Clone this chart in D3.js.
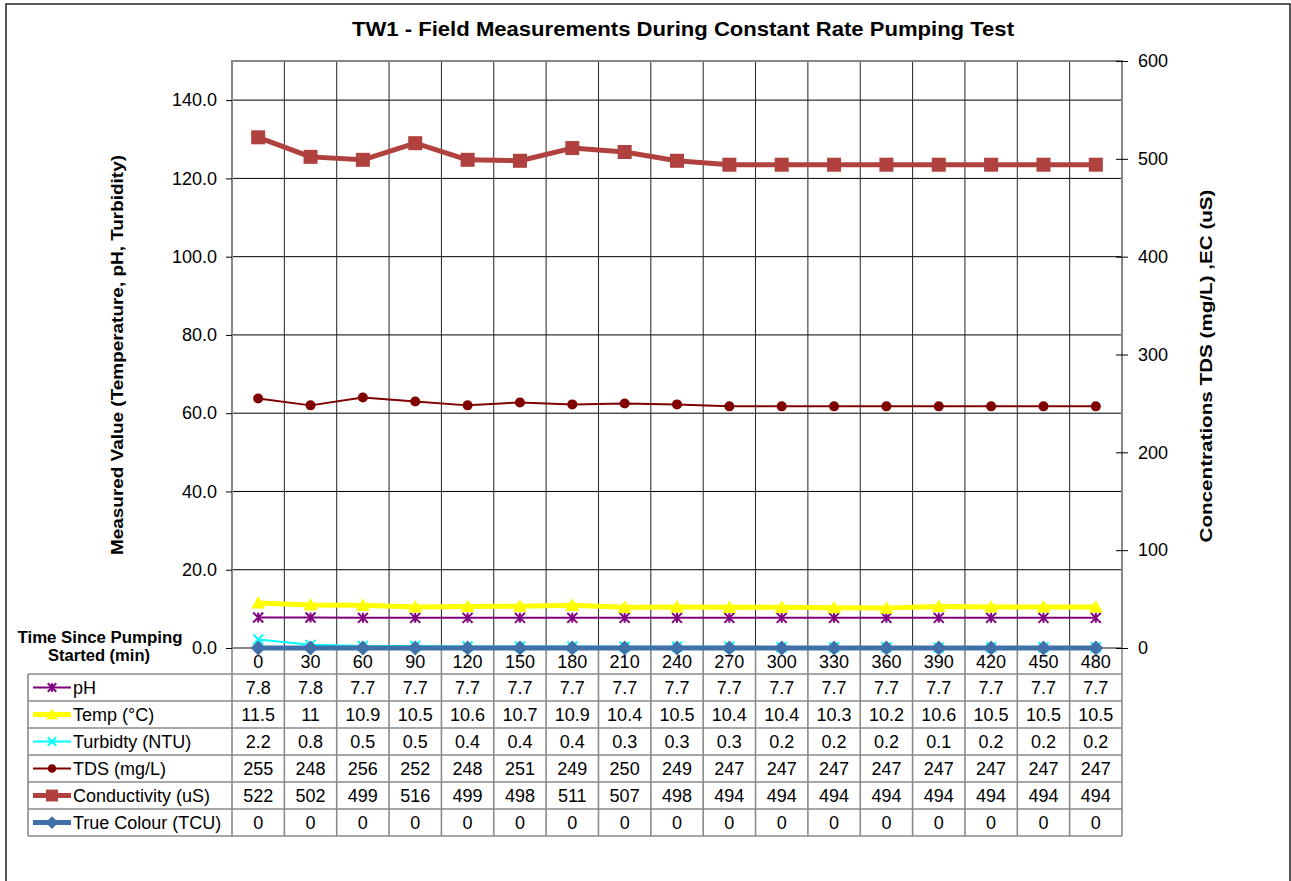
<!DOCTYPE html>
<html>
<head>
<meta charset="utf-8">
<script src="https://cdn.jsdelivr.net/npm/d3@7/dist/d3.min.js"></script>
<style>
  html, body { margin: 0; padding: 0; background: #fff; }
  svg { display: block; font-family: "Liberation Sans", Arial, sans-serif; }
</style>
</head>
<body>
<svg id="chart" width="1291" height="881"></svg>
<script>
// ---------- data ----------
const categories = [0, 30, 60, 90, 120, 150, 180, 210, 240, 270, 300, 330, 360, 390, 420, 450, 480];
const pH = [7.8, 7.8, 7.7, 7.7, 7.7, 7.7, 7.7, 7.7, 7.7, 7.7, 7.7, 7.7, 7.7, 7.7, 7.7, 7.7, 7.7];
const temp = [11.5, 11, 10.9, 10.5, 10.6, 10.7, 10.9, 10.4, 10.5, 10.4, 10.4, 10.3, 10.2, 10.6, 10.5, 10.5, 10.5];
const turbidity = [2.2, 0.8, 0.5, 0.5, 0.4, 0.4, 0.4, 0.3, 0.3, 0.3, 0.2, 0.2, 0.2, 0.1, 0.2, 0.2, 0.2];
const tds = [255, 248, 256, 252, 248, 251, 249, 250, 249, 247, 247, 247, 247, 247, 247, 247, 247];
const conductivity = [522, 502, 499, 516, 499, 498, 511, 507, 498, 494, 494, 494, 494, 494, 494, 494, 494];
const trueColour = [0, 0, 0, 0, 0, 0, 0, 0, 0, 0, 0, 0, 0, 0, 0, 0, 0];
const leftTicks = [0, 20, 40, 60, 80, 100, 120, 140];
const rightTicks = [0, 100, 200, 300, 400, 500, 600];

const series = [
  { name: "pH", values: pH, axis: "L", color: "#800080", width: 2, marker: "star", size: 10 },
  { name: "Temp (°C)", values: temp, axis: "L", color: "#FFFF00", width: 5, marker: "triangle", size: 14 },
  { name: "Turbidty (NTU)", values: turbidity, axis: "L", color: "#00FFFF", width: 2, marker: "x", size: 10 },
  { name: "TDS (mg/L)", values: tds, axis: "R", color: "#800000", width: 2, marker: "circle", size: 10 },
  { name: "Conductivity (uS)", values: conductivity, axis: "R", color: "#B0413E", width: 5, marker: "square", size: 14 },
  { name: "True Colour (TCU)", values: trueColour, axis: "R2", color: "#4270A8", width: 5, marker: "diamond", size: 15 }
];
const tableValues = [pH, temp, turbidity, tds, conductivity, trueColour];

// ---------- layout ----------
const plot = { left: 232, right: 1122, top: 61, bottom: 648 };
const tableLeft = 28;
const headerBottom = 674;
const rowH = 27;
const FS = 18;

const svg = d3.select("#chart");

const x = d3.scaleBand().domain(categories).range([plot.left, plot.right]).paddingInner(0).paddingOuter(0);
const yL = d3.scaleLinear().domain([0, 150]).range([plot.bottom, plot.top]);
const yR = d3.scaleLinear().domain([0, 600]).range([plot.bottom, plot.top]);

// outer border
svg.append("rect").attr("x", 6).attr("y", 4).attr("width", 1284).attr("height", 900)
  .attr("fill", "#fff").attr("stroke", "#000").attr("stroke-width", 1.3);

// title
svg.append("text").attr("x", 683).attr("y", 36).attr("text-anchor", "middle")
  .attr("font-size", 21).attr("font-weight", "bold")
  .attr("textLength", 662).attr("lengthAdjust", "spacingAndGlyphs")
  .text("TW1 - Field Measurements During Constant Rate Pumping Test");

// horizontal gridlines
svg.append("g").selectAll("line").data(leftTicks.filter(d => d > 0)).join("line")
  .attr("x1", plot.left).attr("x2", plot.right)
  .attr("y1", d => yL(d)).attr("y2", d => yL(d))
  .attr("stroke", "#000").attr("stroke-width", 1);

// vertical gridlines in plot
const bounds = categories.slice(1).map(c => x(c));
svg.append("g").selectAll("line").data(bounds).join("line")
  .attr("x1", d => d).attr("x2", d => d)
  .attr("y1", plot.top).attr("y2", plot.bottom)
  .attr("stroke", "#222").attr("stroke-width", 1);

// table grid
const tableBottom = headerBottom + rowH * series.length;
const tg = svg.append("g").attr("stroke", "#8a8a8a").attr("stroke-width", 1.6);
tg.selectAll("line.v").data(bounds).join("line").attr("class", "v")
  .attr("x1", d => d).attr("x2", d => d).attr("y1", plot.bottom).attr("y2", tableBottom);
tg.append("line").attr("x1", plot.left).attr("x2", plot.left).attr("y1", plot.bottom).attr("y2", tableBottom);
tg.append("line").attr("x1", plot.right).attr("x2", plot.right).attr("y1", plot.bottom).attr("y2", tableBottom);
tg.append("line").attr("x1", tableLeft).attr("x2", tableLeft).attr("y1", headerBottom).attr("y2", tableBottom);
d3.range(series.length + 1).forEach(i => {
  tg.append("line").attr("x1", tableLeft).attr("x2", plot.right)
    .attr("y1", headerBottom + i * rowH).attr("y2", headerBottom + i * rowH);
});

// plot area border (grey)
svg.append("rect").attr("x", plot.left).attr("y", plot.top)
  .attr("width", plot.right - plot.left).attr("height", plot.bottom - plot.top)
  .attr("fill", "none").attr("stroke", "#868686").attr("stroke-width", 2);

// left axis
const axL = svg.append("g").attr("transform", `translate(${plot.left},0)`)
  .call(d3.axisLeft(yL).tickValues(leftTicks).tickSize(6).tickPadding(9).tickFormat(d3.format(".1f")));
axL.select(".domain").remove();
axL.selectAll(".tick line").attr("stroke", "#000");
axL.selectAll("text").attr("font-size", FS).attr("fill", "#000").attr("font-family", "Liberation Sans, Arial, sans-serif");

// right axis
const axR = svg.append("g").attr("transform", `translate(${plot.right},0)`)
  .call(d3.axisRight(yR).tickValues(rightTicks).tickSize(6).tickPadding(10).tickFormat(d3.format("d")));
axR.select(".domain").remove();
axR.selectAll(".tick line").attr("x1", -6).attr("stroke", "#000");
axR.selectAll("text").attr("font-size", FS).attr("fill", "#000").attr("font-family", "Liberation Sans, Arial, sans-serif");

// category labels
svg.append("g").selectAll("text").data(categories).join("text")
  .attr("x", d => x(d) + x.bandwidth() / 2).attr("y", 668)
  .attr("text-anchor", "middle").attr("font-size", FS).text(d => d);

// axis titles
svg.append("text").attr("transform", `translate(123,355) rotate(-90)`)
  .attr("text-anchor", "middle").attr("font-size", 16).attr("font-weight", "bold")
  .attr("textLength", 400).attr("lengthAdjust", "spacingAndGlyphs")
  .text("Measured Value (Temperature, pH, Turbidity)");
svg.append("text").attr("transform", `translate(1212,366) rotate(-90)`)
  .attr("text-anchor", "middle").attr("font-size", 16).attr("font-weight", "bold")
  .attr("textLength", 353).attr("lengthAdjust", "spacingAndGlyphs")
  .text("Concentrations TDS (mg/L) ,EC (uS)");

svg.append("text").attr("x", 100).attr("y", 643).attr("text-anchor", "middle")
  .attr("font-size", 16).attr("font-weight", "bold")
  .attr("textLength", 165).attr("lengthAdjust", "spacingAndGlyphs").text("Time Since Pumping");
svg.append("text").attr("x", 99).attr("y", 661).attr("text-anchor", "middle")
  .attr("font-size", 16).attr("font-weight", "bold")
  .attr("textLength", 102).attr("lengthAdjust", "spacingAndGlyphs").text("Started (min)");

// ---------- markers ----------
function drawMarker(g, type, cx, cy, size, color) {
  const h = size / 2;
  if (type === "square") {
    g.append("rect").attr("x", cx - h).attr("y", cy - h).attr("width", size).attr("height", size)
      .attr("fill", color);
  } else if (type === "circle") {
    g.append("circle").attr("cx", cx).attr("cy", cy).attr("r", h).attr("fill", color);
  } else if (type === "triangle") {
    g.append("path").attr("d", `M${cx},${cy - h}L${cx + h},${cy + h * 0.8}L${cx - h},${cy + h * 0.8}Z`).attr("fill", color);
  } else if (type === "diamond") {
    g.append("path").attr("d", `M${cx},${cy - h}L${cx + h},${cy}L${cx},${cy + h}L${cx - h},${cy}Z`).attr("fill", color);
  } else if (type === "x") {
    g.append("path").attr("d", `M${cx - h},${cy - h}L${cx + h},${cy + h}M${cx - h},${cy + h}L${cx + h},${cy - h}`)
      .attr("stroke", color).attr("stroke-width", 2).attr("fill", "none");
  } else if (type === "star") {
    g.append("path").attr("d", `M${cx - h},${cy - h}L${cx + h},${cy + h}M${cx - h},${cy + h}L${cx + h},${cy - h}M${cx},${cy - h}L${cx},${cy + h}`)
      .attr("stroke", color).attr("stroke-width", 2).attr("fill", "none");
  }
}

// ---------- series ----------
const cx = d => x(d) + x.bandwidth() / 2;
series.forEach(s => {
  const yS = s.axis === "L" ? yL : yR;
  const g = svg.append("g");
  const line = d3.line().x((d, i) => cx(categories[i])).y(d => yS(d));
  g.append("path").datum(s.values).attr("d", line)
    .attr("fill", "none").attr("stroke", s.color).attr("stroke-width", s.width)
    .attr("stroke-linejoin", "round");
  s.values.forEach((v, i) => drawMarker(g, s.marker, cx(categories[i]), yS(v), s.size, s.color));
});

// ---------- table ----------
series.forEach((s, r) => {
  const yMid = headerBottom + r * rowH + rowH / 2;
  const g = svg.append("g");
  g.append("line").attr("x1", 33).attr("x2", 71).attr("y1", yMid).attr("y2", yMid)
    .attr("stroke", s.color).attr("stroke-width", s.width);
  drawMarker(g, s.marker, 52, yMid, s.size * 0.85, s.color);
  g.append("text").attr("x", 73).attr("y", yMid + 6).attr("font-size", FS).text(s.name);
  g.selectAll("text.v").data(tableValues[r]).join("text").attr("class", "v")
    .attr("x", (d, i) => cx(categories[i])).attr("y", yMid + 6)
    .attr("text-anchor", "middle").attr("font-size", FS).text(d => d);
});
</script>
</body>
</html>
